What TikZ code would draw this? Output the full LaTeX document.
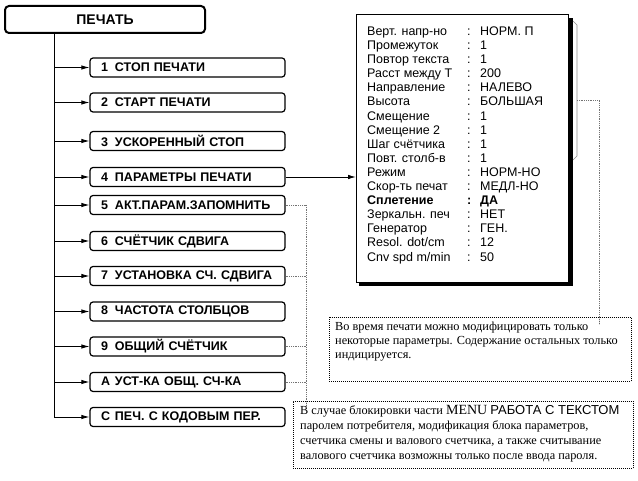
\documentclass[tikz,border=0pt]{standalone}
\usepackage{fontspec}
\setmainfont{Liberation Serif}
\newfontfamily\arial{Liberation Sans}
\usetikzlibrary{arrows.meta}
\begin{document}
\begin{tikzpicture}[x=1pt,y=-1pt,
  topbox/.style={draw, line width=2pt, rounded corners=4pt, minimum width=200pt, minimum height=27pt, inner sep=0pt, font=\arial\bfseries\fontsize{14}{16}\selectfont},
  menubox/.style={draw, line width=1.2pt, rounded corners=3pt, minimum width=195pt, minimum height=19pt, text width=173pt, inner xsep=11pt, inner ysep=0pt, align=left, font=\arial\bfseries\fontsize{12.5}{14}\selectfont},
  conn/.style={line width=0.9pt, -{Latex[length=8pt,width=4.5pt]}},
  dotline/.style={draw=black!55, line width=0.7pt, dash pattern=on 0.9pt off 0.9pt},
  notebox/.style={draw, line width=0.9pt, dash pattern=on 1pt off 1pt, inner sep=0pt},
  partext/.style={anchor=base west, inner sep=0pt, font=\arial\fontsize{12.5}{14}\selectfont},
  notetext/.style={anchor=north west, inner sep=0pt, align=left, font=\fontsize{12.3}{14}\selectfont}
]
\useasboundingbox (0,0) rectangle (638,481);
\fill[white] (0,0) rectangle (638,481);

% top box
\node[topbox] (top) at (105,19.5) {ПЕЧАТЬ};

% menu boxes
\newcommand{\mnum}[1]{\makebox[14pt][l]{#1}}
\node[menubox] (m1) at (187.5,67.5) {\mnum{1}СТОП ПЕЧАТИ};
\node[menubox] (m2) at (187.5,102.5) {\mnum{2}СТАРТ ПЕЧАТИ};
\node[menubox] (m3) at (187.5,141) {\mnum{3}УСКОРЕННЫЙ СТОП};
\node[menubox] (m4) at (187.5,177) {\mnum{4}ПАРАМЕТРЫ ПЕЧАТИ};
\node[menubox] (m5) at (187.5,205) {\mnum{5}АКТ.ПАРАМ.ЗАПОМНИТЬ};
\node[menubox] (m6) at (187.5,241) {\mnum{6}СЧЁТЧИК СДВИГА};
\node[menubox] (m7) at (187.5,276) {\mnum{7}УСТАНОВКА СЧ. СДВИГА};
\node[menubox] (m8) at (187.5,311.5) {\mnum{8}ЧАСТОТА СТОЛБЦОВ};
\node[menubox] (m9) at (187.5,346.5) {\mnum{9}ОБЩИЙ СЧЁТЧИК};
\node[menubox] (mA) at (187.5,382) {\mnum{А}УСТ-КА ОБЩ. СЧ-КА};
\node[menubox] (mC) at (187.5,417) {\mnum{С}ПЕЧ. С КОДОВЫМ ПЕР.};

% trunk
\coordinate (tx) at (54,0);
\draw[line width=0.9pt] (tx |- top.south) -- (tx |- mC.west);
\foreach \m in {m1,m2,m3,m4,m5,m6,m7,m8,m9,mA,mC}
  \draw[conn] (tx |- \m.west) -- (\m.west);

% parameter box with shadow
\fill[black] (568,18) rectangle (573,286);
\fill[black] (359,282) rectangle (573,286);
\draw[black!45, line width=0.6pt] (573,21) -- (577,25) -- (577,156) -- (573,160);
\node[draw, line width=0.8pt, fill=white, minimum width=212pt, minimum height=268pt, anchor=north west, inner sep=0pt] (par) at (356,14) {};

\foreach \a/\b/\f [count=\i] in {
  Верт. напр-но/НОРМ. П/\mdseries,
  Промежуток/1/\mdseries,
  Повтор текста/1/\mdseries,
  Расст между Т/200/\mdseries,
  Направление/НАЛЕВО/\mdseries,
  Высота/БОЛЬШАЯ/\mdseries,
  Смещение/1/\mdseries,
  Смещение 2/1/\mdseries,
  Шаг счётчика/1/\mdseries,
  Повт. столб-в/1/\mdseries,
  Режим/НОРМ-НО/\mdseries,
  Скор-ть печат/МЕДЛ-НО/\mdseries,
  Сплетение/ДА/\bfseries,
  Зеркальн. печ/НЕТ/\mdseries,
  Генератор/ГЕН./\mdseries,
  {Resol. dot/cm}/12/\mdseries,
  {Cnv spd m/min}/50/\mdseries}
{
  \node[partext] (pl\i) at (367,{35.5+14.1*(\i-1)}) {\f\a};
  \node[partext] (pc\i) at (467,{35.5+14.1*(\i-1)}) {\f :};
  \node[partext] (pv\i) at (480,{35.5+14.1*(\i-1)}) {\f\b};
}

% arrow from menu 4 to parameter box
\draw[conn] (m4.east) -- (m4.east -| par.west);

% note boxes
\node[notebox, minimum width=302pt, minimum height=64pt, anchor=north west] (n1) at (329,317) {};
\node[notetext] (n1t) at (335,322) {Во время печати можно модифицировать только\\
некоторые параметры. Содержание остальных только\\
индицируется.};

\node[notebox, minimum width=340pt, minimum height=67pt, anchor=north west] (n2) at (293,401) {};
\node[notetext, font=\fontsize{12.3}{15}\selectfont] (n2t) at (300,405) {В случае блокировки части {\fontsize{14}{15}\selectfont MENU} {\arial\fontsize{13}{15}\selectfont РАБОТА С ТЕКСТОМ}\\
паролем потребителя, модификация блока параметров,\\
счетчика смены и валового счетчика, а также считывание\\
валового счетчика возможны только после ввода пароля.};

% dotted connectors: parameter box -> note 1
\coordinate (d1) at (577,100);
\coordinate (dx1) at (599,0);
\draw[dotline] (d1) -- (dx1 |- d1) -- ([yshift=-7pt]dx1 |- n1.north);
\draw[conn, line width=0pt, draw=none, fill=black] ([yshift=-8pt]dx1 |- n1.north) -- (dx1 |- n1.north);

% dotted connectors: menus 5,7,9,A -> note 2
\coordinate (dx2) at (306,0);
\foreach \m in {m5,m7,m9,mA}
  \draw[dotline] (\m.east) -- (dx2 |- \m.east);
\draw[dotline] (dx2 |- m5.east) -- ([yshift=-7pt]dx2 |- n2.north);
\draw[conn, line width=0pt, draw=none, fill=black] ([yshift=-8pt]dx2 |- n2.north) -- (dx2 |- n2.north);
\end{tikzpicture}
\end{document}
